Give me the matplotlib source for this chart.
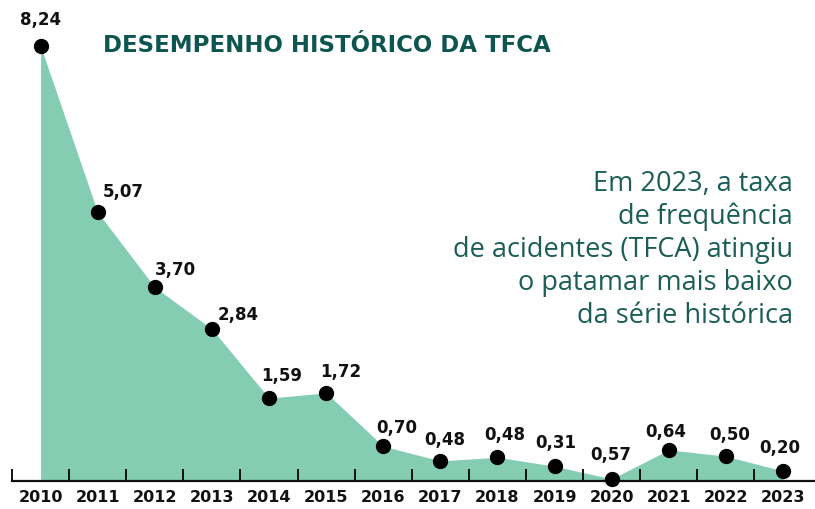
import numpy as np
import matplotlib.pyplot as plt

# dados da série histórica da TFCA
anos = ['2010', '2011', '2012', '2013', '2014', '2015', '2016',
        '2017', '2018', '2019', '2020', '2021', '2022', '2023']
rotulos = ['8,24', '5,07', '3,70', '2,84', '1,59', '1,72', '0,70',
           '0,48', '0,48', '0,31', '0,57', '0,64', '0,50', '0,20']
# altura dos pontos como aparece no gráfico original
tfca = [8.24, 5.09, 3.67, 2.88, 1.57, 1.67, 0.66,
        0.38, 0.45, 0.28, 0.04, 0.59, 0.47, 0.19]

# deslocamento dos rótulos (pixels)
desloc = [(0, 27), (26, 21), (21, 18), (26, 15), (13, 23), (15, 22), (14, 19),
          (4, 22), (7, 23), (1, 24), (-1, 25), (-3, 19), (4, 22), (-3, 24)]

verde = '#84cdb3'
escuro = '#111111'

fig = plt.figure(figsize=(8.15, 5.1), dpi=100)
ax = fig.add_axes([12 / 815, 28 / 510, 803 / 815, 482 / 510])

x = np.arange(len(anos))
ax.fill_between(x, tfca, 0, color=verde, lw=0, zorder=1)
ax.plot(x, tfca, 'o', color='black', ms=10, clip_on=False, zorder=5)

for i, txt in enumerate(rotulos):
    ax.annotate(txt, (x[i], tfca[i]), xytext=desloc[i], textcoords='offset pixels',
                ha='center', va='center', fontsize=12, fontweight='bold',
                family='DejaVu Sans', color=escuro, zorder=6)

ax.set_xlim(-0.5, 13.56)
ax.set_ylim(0, 9.13)

# marcas nos limites de cada ano, rótulos no centro
ax.set_xticks(np.arange(-0.5, 13, 1))
ax.set_xticklabels([])
ax.set_xticks(x, minor=True)
ax.set_xticklabels(anos, minor=True)
ax.tick_params(axis='x', which='major', direction='in', length=8.6, width=1.4, color=escuro)
ax.tick_params(axis='x', which='minor', length=0, pad=6, labelsize=11.5, labelcolor=escuro)
for lbl in ax.get_xticklabels(minor=True):
    lbl.set_fontweight('bold')
ax.set_yticks([])

for s in ['top', 'right', 'left']:
    ax.spines[s].set_visible(False)
ax.spines['bottom'].set_linewidth(1.6)
ax.spines['bottom'].set_color(escuro)
ax.spines['bottom'].set_zorder(3)

fig.text(103 / 815, 1 - 45 / 510, 'DESEMPENHO HISTÓRICO DA TFCA', ha='left', va='center',
         fontsize=16.5, fontweight='bold', color='#0d5550', family='DejaVu Sans')

texto = ('Em 2023, a taxa\nde frequência\nde acidentes (TFCA) atingiu\n'
         'o patamar mais baixo\nda série histórica')
fig.text(793 / 815, 1 - 250 / 510, texto, ha='right', va='center', multialignment='right',
         fontsize=19.5, color='#1b5e58', family='Open Sans', linespacing=1.23)

fig.savefig('out.png', dpi=100)
